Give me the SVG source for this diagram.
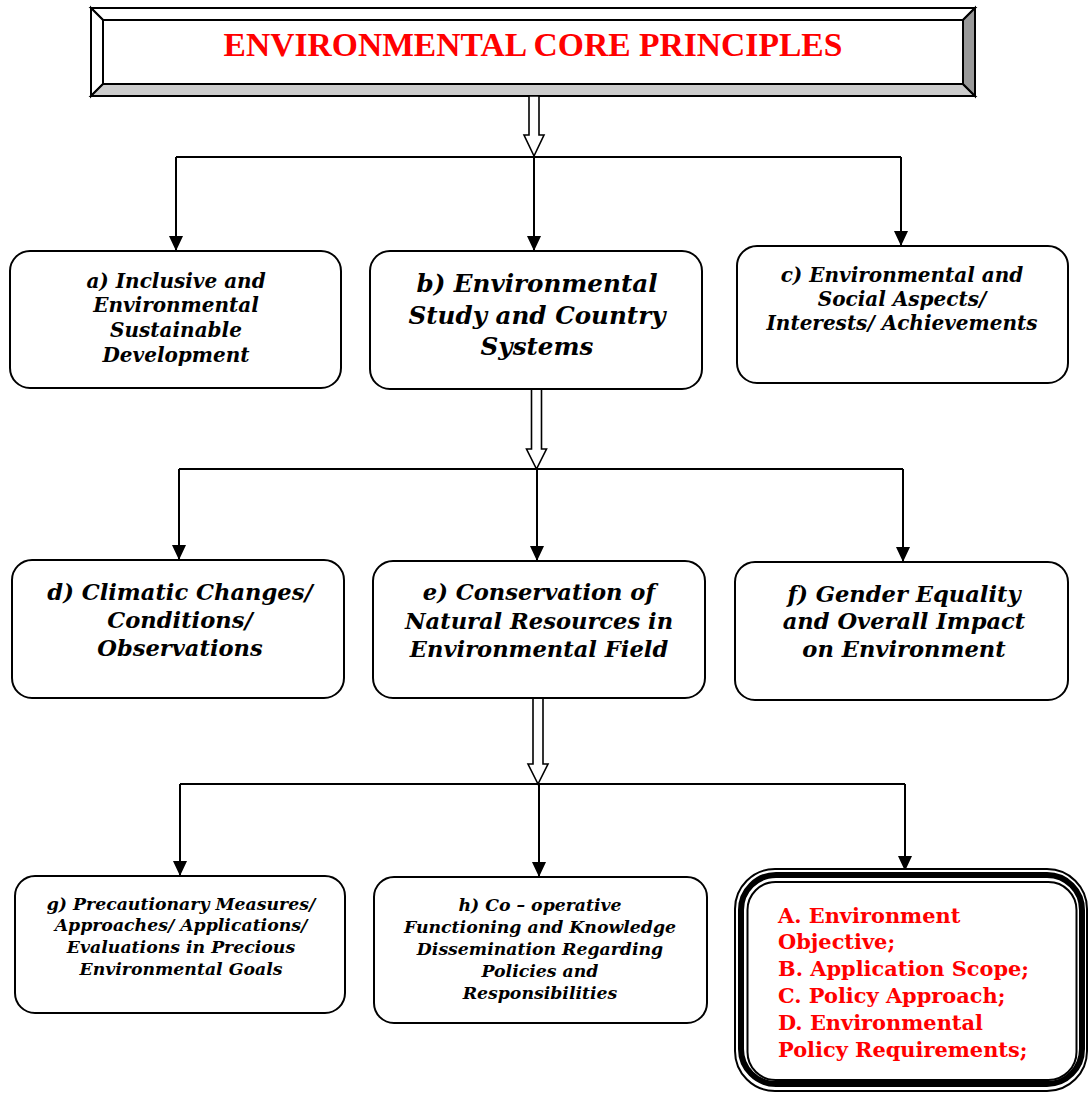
<svg xmlns="http://www.w3.org/2000/svg" width="1089" height="1093" viewBox="0 0 1089 1093">
<style>
.box{fill:#fff;stroke:#000;stroke-width:2}
.ln{fill:none;stroke:#000;stroke-width:2}
.hol{fill:#fff;stroke:#000;stroke-width:1.6}
.t{font-family:"DejaVu Serif","Liberation Serif",serif;font-weight:bold;font-style:italic;fill:#000;text-anchor:middle}
.s20{font-size:20px}
.s22{font-size:22.6px}
.s24{font-size:24.6px}
.s17{font-size:17.3px}
.red{font-family:"DejaVu Serif","Liberation Serif",serif;font-weight:bold;font-size:20.9px;fill:#ff0000}
.title{font-family:"Liberation Serif","Times New Roman",serif;font-weight:bold;font-size:33.6px;fill:#ff0000;text-anchor:middle}
</style>
<defs>
<marker id="ah" viewBox="0 0 15 14" refX="15" refY="7" markerWidth="15" markerHeight="14" markerUnits="userSpaceOnUse" orient="auto">
<path d="M0,0 L15,7 L0,14 z" fill="#000"/>
</marker>
</defs>
<rect width="1089" height="1093" fill="#fff"/>

<g id="title">
<polygon points="91,8 975,8 963,20 103,20" fill="#fff" stroke="#000" stroke-width="2"/>
<polygon points="91,8 103,20 103,84 91,96" fill="#fff" stroke="#000" stroke-width="2"/>
<polygon points="91,96 103,84 963,84 975,96" fill="#ccc" stroke="#000" stroke-width="2"/>
<polygon points="975,8 975,96 963,84 963,20" fill="#999" stroke="#000" stroke-width="2"/>
<rect x="103" y="20" width="860" height="64" fill="#fff" stroke="#000" stroke-width="2"/>
<text class="title" x="533" y="56">ENVIRONMENTAL CORE PRINCIPLES</text>
</g>

<g id="connectors">
<polygon class="hol" points="529,96 539,96 539,135 544,135 534,156 524,135 529,135"/>
<path class="ln" d="M176,157 H901"/>
<path class="ln" d="M176,157 V251" marker-end="url(#ah)"/>
<path class="ln" d="M534,157 V251" marker-end="url(#ah)"/>
<path class="ln" d="M901,157 V246" marker-end="url(#ah)"/>

<polygon class="hol" points="531.5,389 541.5,389 541.5,449 546.5,449 536.5,469 526.5,449 531.5,449"/>
<path class="ln" d="M179,469 H903"/>
<path class="ln" d="M179,469 V560" marker-end="url(#ah)"/>
<path class="ln" d="M537,469 V561" marker-end="url(#ah)"/>
<path class="ln" d="M903,469 V562" marker-end="url(#ah)"/>

<polygon class="hol" points="533,698 543,698 543,764 548,764 538,784 528,764 533,764"/>
<path class="ln" d="M180,784 H905"/>
<path class="ln" d="M180,784 V876" marker-end="url(#ah)"/>
<path class="ln" d="M539,784 V877" marker-end="url(#ah)"/>
<path class="ln" d="M905,784 V871" marker-end="url(#ah)"/>
</g>

<g id="node-a">
<rect class="box" x="10" y="251" width="331" height="137" rx="20"/>
<text class="t s20"><tspan x="176" y="288">a) Inclusive and</tspan><tspan x="176" y="312">Environmental</tspan><tspan x="176" y="337">Sustainable</tspan><tspan x="176" y="362">Development</tspan></text>
</g>

<g id="node-b">
<rect class="box" x="370" y="251" width="332" height="138" rx="20"/>
<text class="t s24"><tspan x="537" y="292">b) Environmental</tspan><tspan x="537" y="324">Study and Country</tspan><tspan x="537" y="355">Systems</tspan></text>
</g>

<g id="node-c">
<rect class="box" x="737" y="246" width="331" height="137" rx="20"/>
<text class="t s20"><tspan x="902" y="282">c) Environmental and</tspan><tspan x="902" y="306">Social Aspects/</tspan><tspan x="902" y="330">Interests/ Achievements</tspan></text>
</g>

<g id="node-d">
<rect class="box" x="12" y="560" width="332" height="138" rx="20"/>
<text class="t s22"><tspan x="180" y="600">d) Climatic Changes/</tspan><tspan x="180" y="628">Conditions/</tspan><tspan x="180" y="656">Observations</tspan></text>
</g>

<g id="node-e">
<rect class="box" x="373" y="561" width="332" height="137" rx="20"/>
<text class="t s22"><tspan x="539" y="600">e) Conservation of</tspan><tspan x="539" y="629">Natural Resources in</tspan><tspan x="539" y="657">Environmental Field</tspan></text>
</g>

<g id="node-f">
<rect class="box" x="735" y="562" width="333" height="138" rx="20"/>
<text class="t s22"><tspan x="904" y="602">f) Gender Equality</tspan><tspan x="904" y="629">and Overall Impact</tspan><tspan x="904" y="657">on Environment</tspan></text>
</g>

<g id="node-g">
<rect class="box" x="15" y="876" width="330" height="137" rx="20"/>
<text class="t s17"><tspan x="181" y="910">g) Precautionary Measures/</tspan><tspan x="181" y="931">Approaches/ Applications/</tspan><tspan x="181" y="953">Evaluations in Precious</tspan><tspan x="181" y="975">Environmental Goals</tspan></text>
</g>

<g id="node-h">
<rect class="box" x="374" y="877" width="333" height="146" rx="20"/>
<text class="t s17"><tspan x="540" y="911">h) Co – operative</tspan><tspan x="540" y="933">Functioning and Knowledge</tspan><tspan x="540" y="955">Dissemination Regarding</tspan><tspan x="540" y="977">Policies and</tspan><tspan x="540" y="999">Responsibilities</tspan></text>
</g>

<g id="node-list">
<rect x="735" y="869" width="352" height="222" rx="40" fill="#fff" stroke="#000" stroke-width="2"/>
<rect x="741" y="875" width="341" height="209" rx="35" fill="none" stroke="#000" stroke-width="6"/>
<rect x="747.5" y="882" width="329" height="198" rx="28" fill="none" stroke="#000" stroke-width="2"/>
<text class="red"><tspan x="778" y="923">A. Environment</tspan><tspan x="778" y="949">Objective;</tspan><tspan x="778" y="976">B. Application Scope;</tspan><tspan x="778" y="1003">C. Policy Approach;</tspan><tspan x="778" y="1030">D. Environmental</tspan><tspan x="778" y="1057">Policy Requirements;</tspan></text>
</g>
</svg>
